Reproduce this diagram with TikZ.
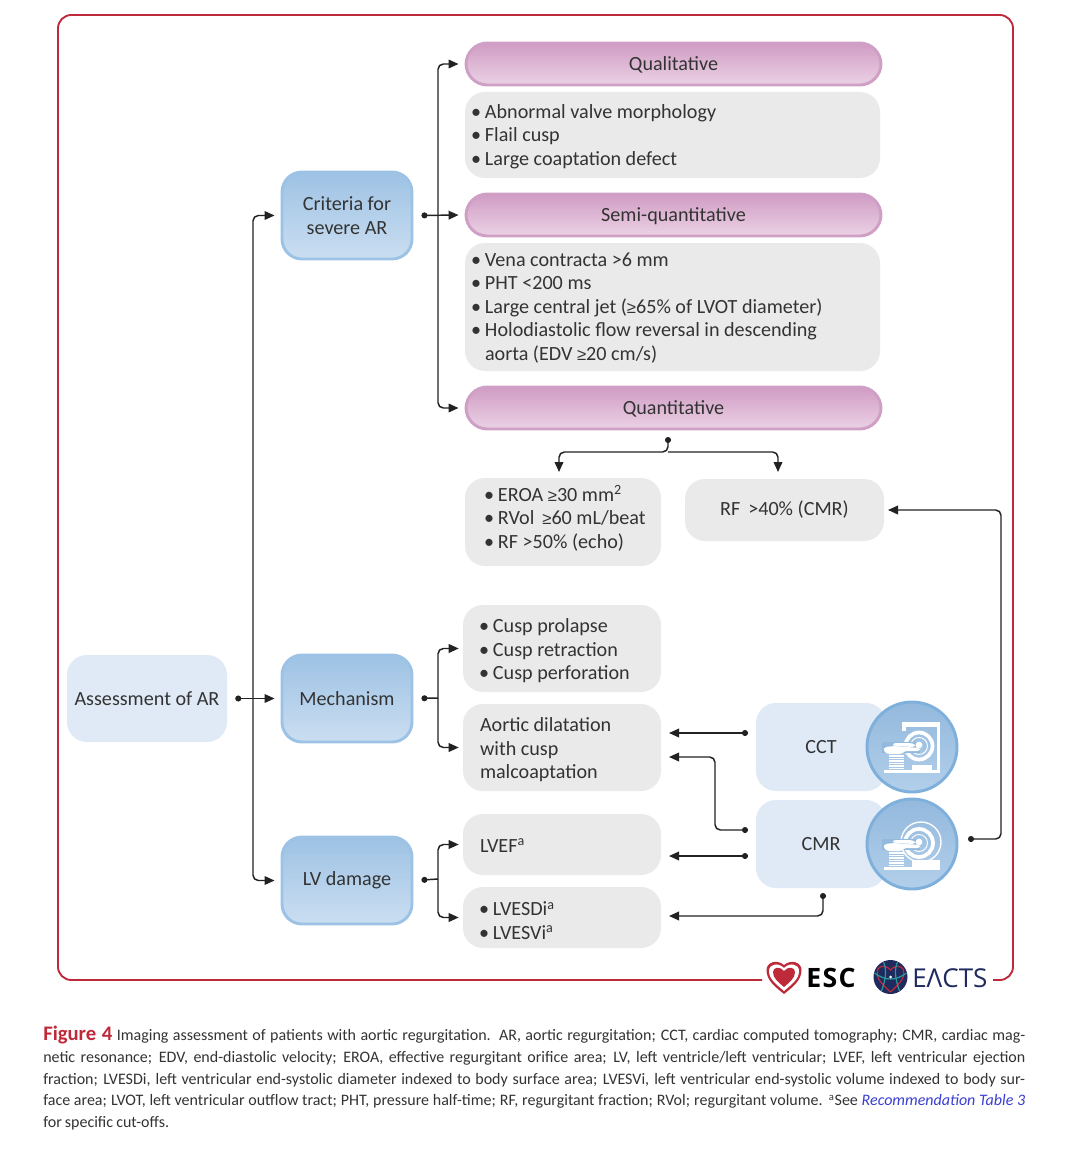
\documentclass[tikz,border=0pt]{standalone}
\usepackage{fontspec}
\setmainfont{Carlito}
\newfontfamily\myCaptionFont[WordSpace=0.85]{Carlito}
\newfontfamily\myLogoFont{Open Sans}
\newfontfamily\myGeFont{Liberation Sans}
\usetikzlibrary{arrows.meta,calc}
\definecolor{txt}{HTML}{333333}
\definecolor{lineblk}{HTML}{222222}
\definecolor{greybox}{HTML}{EAEAEA}
\definecolor{paleblue}{HTML}{DFEAF6}
\definecolor{bluetop}{HTML}{9DC2E4}
\definecolor{bluebot}{HTML}{CBDEF1}
\definecolor{blueedge}{HTML}{9CC3E6}
\definecolor{pinktop}{HTML}{D09CC4}
\definecolor{pinkbot}{HTML}{EBD2E5}
\definecolor{pinkedge}{HTML}{CF9FC6}
\definecolor{framered}{HTML}{BE2A3A}
\definecolor{navy}{HTML}{1F2A5E}
\definecolor{linkblue}{HTML}{3A3FD0}
\definecolor{iconedge}{HTML}{7FB0DC}
\definecolor{icontop}{HTML}{93B9DD}
\definecolor{iconbot}{HTML}{B2CFEA}
\definecolor{tealc}{HTML}{2A9A9A}
\newcommand{\myBlt}{\makebox[10.5pt][l]{•}}
\newcommand{\myGe}{{\myGeFont\fontsize{12.5}{17.7}\selectfont ≥}}
\newcommand{\myTop}[1]{\rule{0pt}{#1}}
\newcommand{\myCbx}[7][]{\node[box,#1,minimum width={(#5-#3)*0.75pt},minimum height={(#6-#4)*0.75pt}] (#2) at ({(#3+#5)/2},{(#4+#6)/2}) {#7};}
\newcommand{\myLbx}[8][]{\node[box,#1,align=flush left,inner xsep={#7*0.75pt},text width={(#5-#3-2*#7)*0.75pt},minimum height={(#6-#4)*0.75pt}] (#2) at ({(#3+#5)/2},{(#4+#6)/2}) {#8};}
\tikzset{
 x=0.75pt,y=-0.75pt,
 box/.style={rounded corners=15pt,inner sep=0pt,text=txt,font=\fontsize{15.1}{17.7}\selectfont},
 pale/.style={fill=paleblue},
 grey/.style={fill=greybox},
 blueb/.style={top color=bluetop,bottom color=bluebot,draw=blueedge,line width=2.2pt},
 pinkb/.style={top color=pinktop,bottom color=pinkbot,draw=pinkedge,line width=2.2pt,rounded corners=16pt,text height=12pt,text depth=3pt},
 conn/.style={draw=lineblk,line width=1.1pt,rounded corners=4pt,{Circle[length=4.5pt]}-{Triangle[length=7.5pt,width=6.5pt]}},
 bus/.style={draw=lineblk,line width=1.1pt,rounded corners=4pt,-{Triangle[length=7.5pt,width=6.5pt]}},
 plain/.style={draw=lineblk,line width=1.1pt},
 pics/scancommon/.style={code={
   \fill[white] (-28,23) rectangle (28,25.5);
   \foreach \yy in {8,10.5,...,21}{\fill[white] (-23,\yy) rectangle (-8,\yy+1.7);}
   \fill[icontop] (-30,-5) -- (8,-5) -- (8,5.5) -- (-30,5.5) -- cycle;
   \fill[white,rounded corners=2pt] (-29,3) -- (-27,0) -- (-18,-1) -- (8,1) -- (8,4) -- (-8,4) -- (-10,7) -- (-25,7) -- cycle;
   \fill[white,rounded corners=2pt] (-19,-4) -- (-2,-4) -- (3,-3) -- (3,0) -- (-19,-1) -- cycle;
   \fill[white] (7,-2) circle (3.4);
 }}
}
\begin{document}
\begin{tikzpicture}
\useasboundingbox (0,0) rectangle (1080,1156);
\fill[white] (0,0) rectangle (1080,1156);
% frame
\draw[framered,line width=1.4pt,rounded corners=10pt] (762,980) -| (58,15) -| (1013,980) -- (993,980);
% left column
\myCbx[pale]{assess}{67}{655}{227}{742}{Assessment of AR}
\myCbx[blueb,align=flush center]{crit}{282}{172}{412}{259}{Criteria for\\severe AR}
\myCbx[blueb]{mech}{282}{655}{412}{742}{Mechanism}
\myCbx[blueb]{lvd}{282}{837}{412}{924}{LV damage}
% top column
\myCbx[pinkb]{qual}{466}{43}{881}{85}{Qualitative}
\myLbx[grey]{qualbox}{465}{92}{880}{178}{6}{\myTop{12.5pt}\myBlt Abnormal valve morphology\\\myBlt Flail cusp\\\myBlt Large coaptation defect}
\myCbx[pinkb]{semi}{466}{194}{881}{236}{Semi-quantitative}
\myLbx[grey]{semibox}{465}{243}{880}{371}{6}{\myTop{11.5pt}\myBlt Vena contracta >6 mm\\\myBlt PHT <200 ms\\\myBlt Large central jet (\myGe65\% of LVOT diameter)\\\myBlt Holodiastolic flow reversal in descending\\\hspace*{10.5pt}aorta (EDV \myGe20 cm/s)}
\myCbx[pinkb]{quant}{466}{387}{881}{429}{Quantitative}
\myLbx[grey]{eroa}{465}{478}{661}{566}{12}{\hspace*{5.25pt}\myBlt EROA \myGe30 mm\textsuperscript{2}\\\hspace*{5.25pt}\myBlt RVol\, \myGe60 mL/beat\\\hspace*{5.25pt}\myBlt RF >50\% (echo)\rule[-8pt]{0pt}{1pt}}
\myCbx[grey]{rf}{685}{479}{884}{541}{RF\, >40\% (CMR)}
\myLbx[grey]{cusp}{463}{605}{661}{692}{16}{\myTop{14pt}\myBlt Cusp prolapse\\\myBlt Cusp retraction\\\myBlt Cusp perforation}
\myLbx[grey]{aortic}{463}{704}{661}{791}{17}{\myTop{14pt}Aortic dilatation\\with cusp\\malcoaptation}
\myLbx[grey]{lvef}{463}{814}{661}{875}{17}{\myTop{12.5pt}LVEF\textsuperscript{a}}
\myLbx[grey]{lvesd}{463}{887}{661}{948}{16}{\myTop{15.5pt}\myBlt LVESDi\textsuperscript{a}\\\myBlt LVESVi\textsuperscript{a}}
\myCbx[pale]{cct}{756}{703}{886}{791}{\makebox[0pt]{CCT}}
\myCbx[pale]{cmr}{756}{800}{886}{888}{\makebox[0pt]{CMR}}
% icons
\foreach \nm/\cy in {cticon/747,mricon/844}{
 \node[circle,minimum size=67.5pt,inner sep=0pt,top color=icontop,bottom color=iconbot,draw=iconedge,line width=2.2pt] (\nm) at (912,\cy) {};
}
\begin{scope}[shift={(912,747)}]
 \draw[white,line width=2.8pt] (7,-1) circle (13.5);
 \draw[white,line width=0.7pt] (7,-1) circle (8.5);
 \fill[white] (-10,-25) rectangle (28,-20);
 \fill[white] (24.5,-25) rectangle (28,23);
 \fill[white] (-10,-25) rectangle (-6,-16);
 \fill[white] (0,18) rectangle (20,23);
 \pic {scancommon};
\end{scope}
\begin{scope}[shift={(912,844)}]
 \draw[white,line width=2.8pt] (7,-1) circle (14);
 \draw[white,line width=0.7pt] (7,-1) circle (8.5);
 \draw[white,line width=1pt] (9,-2) circle (20);
 \fill[white] (0,16) rectangle (28,23);
 \pic {scancommon};
\end{scope}
% connectors
\coordinate (busL) at (253,698);
\coordinate (busC) at (438,215);
\coordinate (busM) at (438,698);
\coordinate (busV) at (438,879);
\tikzset{sh/.style={shorten <=6pt,shorten >=4.5pt}}
\draw[conn,sh] (assess.east) -- (mech.west);
\draw[bus,shorten >=4.5pt] (busL) |- (crit.west);
\draw[bus,shorten >=4.5pt] (busL) |- (lvd.west);
\draw[conn,sh] (crit.east) -- (semi.west);
\draw[bus,shorten >=4.5pt] (busC) |- (qual.west);
\draw[bus,shorten >=4.5pt] (busC) |- (quant.west);
\draw[plain,{Circle[length=4.5pt]}-,shorten <=6pt] (mech.east) -- (busM);
\draw[bus,shorten >=3pt] (busM) |- (cusp.west);
\draw[bus,shorten >=3pt] (busM) |- (aortic.west);
\draw[plain,{Circle[length=4.5pt]}-,shorten <=6pt] (lvd.east) -- (busV);
\draw[bus,shorten >=3pt] (busV) |- (lvef.west);
\draw[bus,shorten >=3pt] (busV) |- (lvesd.west);
% quantitative
\coordinate (qdot) at (668,437);
\coordinate (qj) at (668,452);
\coordinate (qa) at (559,472);
\coordinate (qb) at (778,472);
\draw[conn] (qdot) -- (qj) -| (qa);
\draw[bus] (qj) -| (qb);
% modality connectors
\coordinate (ctL) at (748,733);
\coordinate (aoA) at (669,733);
\coordinate (mrA) at (748,830);
\coordinate (mrK) at (715,757);
\coordinate (aoB) at (669,757);
\coordinate (mrB) at (748,856);
\coordinate (lfA) at (669,856);
\coordinate (mrC) at (823,893);
\coordinate (lsA) at (669,916);
\coordinate (mrR) at (968,839);
\coordinate (rfA) at (888,510);
\draw[conn] (ctL) -- (aoA);
\draw[conn] (mrA) -| (mrK) -- (aoB);
\draw[conn] (mrB) -- (lfA);
\draw[conn] (mrC) |- (lsA);
\draw[conn] (mrR) -| (1001,510) -- (rfA);
% ESC logo
\node[inner sep=0pt,anchor=west,text=black,font=\myLogoFont\bfseries\fontsize{20}{20}\selectfont] (esc) at (806,978) {E\kern1pt S\kern1pt C};
\begin{scope}[shift={(784,977)}]
 \fill[framered] (0,17) .. controls (-10,9) and (-17.5,3) .. (-17.5,-7) .. controls (-17.5,-15) and (-7,-18) .. (0,-12) .. controls (7,-18) and (17.5,-15) .. (17.5,-7) .. controls (17.5,3) and (10,9) .. (0,17) -- cycle;
 \fill[white] (0,14) .. controls (-8,7) and (-15,2) .. (-15,-6) .. controls (-15,-13) and (-6,-15) .. (0,-9) .. controls (6,-15) and (15,-13) .. (15,-6) .. controls (15,2) and (8,7) .. (0,14) -- cycle;
 \fill[framered] (0,10) .. controls (-6,5) and (-11,1) .. (-11,-5) .. controls (-11,-10) and (-4,-11) .. (0,-6) .. controls (4,-11) and (11,-10) .. (11,-5) .. controls (11,1) and (6,5) .. (0,10) -- cycle;
\end{scope}
% EACTS logo
\begin{scope}[shift={(890.5,977)}]
 \fill[navy] (0,0) circle (17);
 \draw[framered,line width=0.9pt] (0,15) .. controls (-10,6) and (-15,0) .. (-13,-7) .. controls (-10,-13) and (-3,-11) .. (0,-7) .. controls (3,-11) and (10,-13) .. (13,-7) .. controls (15,0) and (10,6) .. (0,15);
 \draw[tealc,line width=0.9pt] (-16,-4) .. controls (-5,4) and (5,4) .. (16,-4);
 \draw[tealc,line width=0.9pt] (-9,14) .. controls (-4,0) and (-4,-8) .. (-7,-15);
 \draw[tealc,line width=0.9pt] (9,14) .. controls (4,0) and (4,-8) .. (7,-15);
 \fill[white] (0,0) circle (1.5);
\end{scope}
\node[inner sep=0pt,anchor=west,text=navy,font=\myLogoFont\fontsize{19.5}{19.5}\selectfont] (eacts) at (912,978) {EΛCTS};
% caption
\node[anchor=north west,inner sep=0pt,text width=736.5pt,align=justify,text=txt,font=\myCaptionFont\fontsize{12}{16.3}\selectfont] (caption) at (43,1026) {\textcolor{framered}{\bfseries\fontsize{15.5}{16.3}\selectfont Figure 4} Imaging assessment of patients with aortic regurgitation. AR, aortic regurgitation; CCT, cardiac computed tomography; CMR, cardiac mag-\linebreak netic resonance; EDV, end-diastolic velocity; EROA, effective regurgitant orifice area; LV, left ventricle/left ventricular; LVEF, left ventricular ejection\linebreak fraction; LVESDi, left ventricular end-systolic diameter indexed to body surface area; LVESVi, left ventricular end-systolic volume indexed to body sur-\linebreak face area; LVOT, left ventricular outflow tract; PHT, pressure half-time; RF, regurgitant fraction; RVol; regurgitant volume. \textsuperscript{a}See \textcolor{linkblue}{\itshape Recommendation Table 3}\linebreak for specific cut-offs.};
\end{tikzpicture}
\end{document}
